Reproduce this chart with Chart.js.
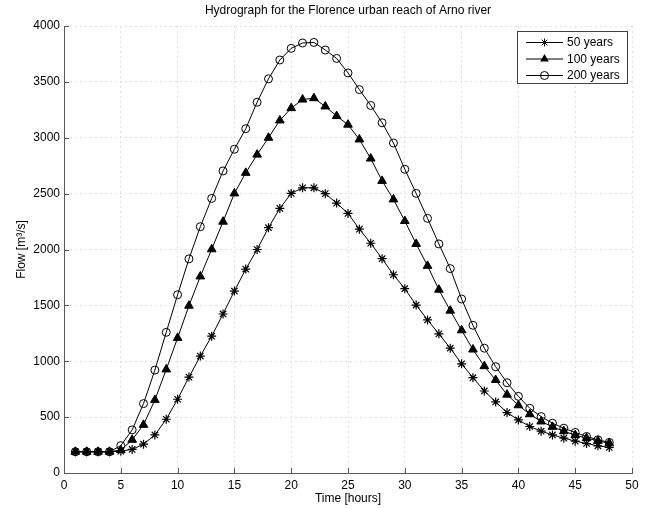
<!DOCTYPE html>
<html>
<head>
<meta charset="utf-8">
<script src="https://cdn.jsdelivr.net/npm/chart.js@4/dist/chart.umd.min.js"></script>
<style>
    html, body { margin: 0; padding: 0; background: #ffffff; }
    #wrap { width: 645px; height: 509px; }
</style>
</head>
<body>
<div id="wrap"><canvas id="hydroChart"></canvas></div>
<script>
// Hours of the hydrograph (x axis)
const hours = [1, 2, 3, 4, 5, 6, 7, 8, 9, 10, 11, 12, 13, 14, 15, 16, 17, 18, 19, 20, 21, 22, 23, 24,
    25, 26, 27, 28, 29, 30, 31, 32, 33, 34, 35, 36, 37, 38, 39, 40, 41, 42, 43, 44, 45, 46, 47, 48];

// Flow [m3/s], one value per hour
const flow50 = [190, 190, 190, 190, 195, 211, 258, 341, 481, 660, 858, 1046, 1224, 1423, 1628, 1825,
    2000, 2195, 2368, 2502, 2552, 2552, 2500, 2415, 2323, 2182, 2056, 1918, 1774, 1649, 1503, 1370,
    1245, 1117, 977, 853, 734, 636, 541, 475, 416, 374, 341, 312, 285, 264, 243, 229];
const flow100 = [190, 190, 190, 190, 205, 297, 431, 654, 927, 1209, 1497, 1759, 2002, 2249, 2502, 2686,
    2849, 3000, 3155, 3265, 3342, 3354, 3280, 3194, 3117, 2985, 2814, 2614, 2448, 2255, 2050, 1854,
    1640, 1453, 1277, 1105, 956, 832, 701, 606, 526, 461, 413, 374, 339, 312, 288, 267];
const flow200 = [190, 190, 190, 190, 245, 386, 621, 921, 1259, 1595, 1916, 2204, 2457, 2703, 2897, 3081,
    3318, 3527, 3696, 3800, 3848, 3853, 3785, 3710, 3580, 3431, 3289, 3134, 2953, 2718, 2502, 2279,
    2050, 1829, 1557, 1322, 1117, 951, 808, 686, 579, 505, 446, 401, 363, 327, 297, 274];

const seriesLabels = ['50 years', '100 years', '200 years'];
const xTicks = [0, 5, 10, 15, 20, 25, 30, 35, 40, 45, 50];
const yTicks = [0, 500, 1000, 1500, 2000, 2500, 3000, 3500, 4000];

const titleText = 'Hydrograph for the Florence urban reach of Arno river';
const xTitle = 'Time [hours]';
const yTitle = 'Flow [m\u00B3/s]';

const FONT = "'Liberation Sans', Arial, sans-serif";

function toPoints(values) {
    return hours.map((h, i) => ({ x: h, y: values[i] }));
}

// Draws a marker of the given style (used for the legend)
function drawMarker(ctx, style, x, y) {
    ctx.save();
    ctx.strokeStyle = '#000';
    ctx.fillStyle = '#000';
    ctx.lineWidth = 1;
    if (style === 'star') {
        const r = 4;
        const d = r * Math.SQRT1_2;
        ctx.beginPath();
        ctx.moveTo(x - r, y); ctx.lineTo(x + r, y);
        ctx.moveTo(x, y - r); ctx.lineTo(x, y + r);
        ctx.moveTo(x - d, y - d); ctx.lineTo(x + d, y + d);
        ctx.moveTo(x - d, y + d); ctx.lineTo(x + d, y - d);
        ctx.stroke();
    } else if (style === 'triangle') {
        const r = 5;
        ctx.beginPath();
        ctx.moveTo(x, y - r);
        ctx.lineTo(x + r * 0.866, y + r * 0.5);
        ctx.lineTo(x - r * 0.866, y + r * 0.5);
        ctx.closePath();
        ctx.fill();
    } else {
        ctx.beginPath();
        ctx.arc(x, y, 4, 0, Math.PI * 2);
        ctx.stroke();
    }
    ctx.restore();
}

// Titles, inward ticks and the MATLAB-like legend box
const matlabDecor = {
    id: 'matlabDecor',
    afterDraw(chart) {
        const ctx = chart.ctx;
        const area = chart.chartArea;
        const xs = chart.scales.x;
        const ys = chart.scales.y;

        ctx.save();
        // inward tick marks
        ctx.strokeStyle = '#5a5a5a';
        ctx.lineWidth = 1;
        ctx.beginPath();
        xTicks.forEach(v => {
            const px = Math.round(xs.getPixelForValue(v)) + 0.5;
            ctx.moveTo(px, area.bottom);
            ctx.lineTo(px, area.bottom - 5);
        });
        yTicks.forEach(v => {
            const py = Math.round(ys.getPixelForValue(v)) + 0.5;
            ctx.moveTo(area.left, py);
            ctx.lineTo(area.left + 5, py);
        });
        ctx.stroke();

        // titles
        ctx.fillStyle = '#000';
        ctx.font = '12px ' + FONT;
        ctx.textAlign = 'center';
        ctx.textBaseline = 'middle';
        const cx = (area.left + area.right) / 2;
        ctx.fillText(titleText, cx, 11);
        ctx.fillText(xTitle, cx, 499);
        ctx.save();
        ctx.translate(22, (area.top + area.bottom) / 2);
        ctx.rotate(-Math.PI / 2);
        ctx.fillText(yTitle, 0, 0);
        ctx.restore();

        // legend
        const box = { left: 517.5, top: 31.5, right: 627.5, bottom: 83.5 };
        ctx.fillStyle = '#ffffff';
        ctx.fillRect(box.left, box.top, box.right - box.left, box.bottom - box.top);
        ctx.strokeStyle = '#404040';
        ctx.strokeRect(box.left, box.top, box.right - box.left, box.bottom - box.top);

        const rows = [42, 58.5, 75];
        chart.data.datasets.forEach((ds, i) => {
            const y = rows[i];
            ctx.strokeStyle = '#000';
            ctx.beginPath();
            ctx.moveTo(526, y + 0.5);
            ctx.lineTo(563, y + 0.5);
            ctx.stroke();
            drawMarker(ctx, ds.pointStyle, 544.5, y + 0.5);
            ctx.fillStyle = '#000';
            ctx.textAlign = 'left';
            ctx.textBaseline = 'middle';
            ctx.font = '12px ' + FONT;
            ctx.fillText(ds.label, 567, y + 1);
        });
        ctx.restore();
    }
};

const ctx = document.getElementById('hydroChart').getContext('2d');
new Chart(ctx, {
    type: 'line',
    data: {
        datasets: [
            {
                label: seriesLabels[0],
                data: toPoints(flow50),
                pointStyle: 'star',
                pointRadius: 4.5,
                pointBorderColor: '#000',
                pointBackgroundColor: '#000',
                pointBorderWidth: 1.2,
                order: 3
            },
            {
                label: seriesLabels[1],
                data: toPoints(flow100),
                pointStyle: 'triangle',
                pointRadius: 5,
                pointBorderColor: '#000',
                pointBackgroundColor: '#000',
                order: 2
            },
            {
                label: seriesLabels[2],
                data: toPoints(flow200),
                pointStyle: 'circle',
                pointRadius: 4,
                pointBorderColor: '#000',
                pointBackgroundColor: 'rgba(0,0,0,0)',
                order: 1
            }
        ]
    },
    options: {
        responsive: true,
        maintainAspectRatio: false,
        animation: false,
        devicePixelRatio: 1,
        layout: { padding: { top: 26, right: 13, left: 0, bottom: 0 } },
        elements: {
            line: { borderColor: '#000', borderWidth: 1, tension: 0, fill: false },
            point: { pointBorderWidth: 1, hoverRadius: 4 }
        },
        plugins: {
            legend: { display: false },
            title: { display: false },
            tooltip: { enabled: false }
        },
        scales: {
            x: {
                type: 'linear',
                min: 0,
                max: 50,
                afterFit: (scale) => { scale.height = 36; },
                afterBuildTicks: (scale) => { scale.ticks = xTicks.map(v => ({ value: v })); },
                ticks: {
                    color: '#000', font: { family: FONT, size: 12 }, padding: 5, maxRotation: 0,
                    callback: (v) => String(v)
                },
                grid: { color: '#e0e0e0', drawTicks: false, lineWidth: 1 },
                border: { display: true, color: '#5a5a5a', width: 1, dash: [2, 3] }
            },
            y: {
                type: 'linear',
                min: 0,
                max: 4000,
                afterFit: (scale) => { scale.width = 64; },
                afterBuildTicks: (scale) => { scale.ticks = yTicks.map(v => ({ value: v })); },
                ticks: {
                    color: '#000', font: { family: FONT, size: 12 }, padding: 4,
                    callback: (v) => String(v)
                },
                grid: { color: '#e0e0e0', drawTicks: false, lineWidth: 1 },
                border: { display: true, color: '#5a5a5a', width: 1, dash: [2, 3] }
            }
        }
    },
    plugins: [matlabDecor]
});
</script>
</body>
</html>
